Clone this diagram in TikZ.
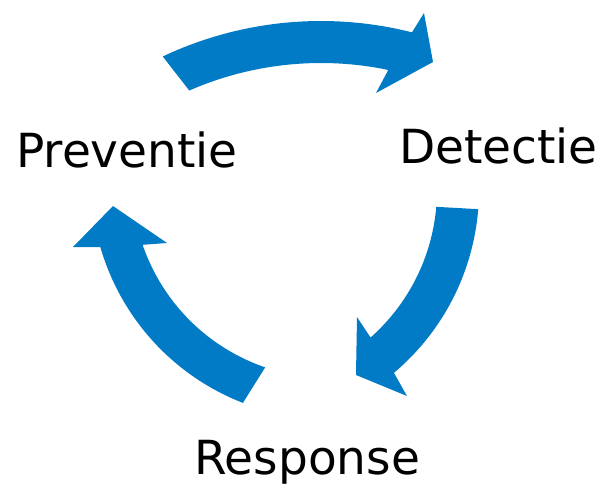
\documentclass[tikz,border=0pt]{standalone}
\usepackage{fontspec}
\setmainfont{DejaVu Sans}
\definecolor{cycleblue}{RGB}{2,123,198}
\begin{document}
\begin{tikzpicture}[x=1pt,y=-1pt,
  cyclearrow/.style={fill=cycleblue, draw=none},
  stage/.style={inner sep=0pt, anchor=base west, font=\fontsize{47}{56}\selectfont}]
\useasboundingbox (0,0) rectangle (603,485);

% Preventie -> Detectie (top arc)
\fill[cyclearrow]
  plot[domain=-115.25:-75.8, samples=50] ({321+371*cos(\x)},{392+371*sin(\x)})
  -- (424,13) -- (433,62) -- (376,93)
  -- plot[domain=-78.2:-113.6, samples=50] ({321+329*cos(\x)},{392+329*sin(\x)})
  -- cycle;

% Detectie -> Response (right arc)
\fill[cyclearrow]
  plot[domain=4.6:49.9, samples=50] ({240+239*cos(\x)},{190+239*sin(\x)})
  -- (407,396) -- (356,375) -- (357,317)
  -- plot[domain=48.5:4.9, samples=50] ({240+197*cos(\x)},{190+197*sin(\x)})
  -- cycle;

% Response -> Preventie (left arc)
\fill[cyclearrow]
  plot[domain=111.2:163.9, samples=50] ({329+238*cos(\x)},{181+238*sin(\x)})
  -- (73,247) -- (113,206) -- (167,243)
  -- plot[domain=161.1:108.9, samples=50] ({329+197*cos(\x)},{181+197*sin(\x)})
  -- cycle;

% stage labels
\node[stage] (preventie) at (16,167) {Preventie};
\node[stage] (detectie) at (399,163) {Detectie};
\node[stage] (response) at (194,474) {Response};
\end{tikzpicture}
\end{document}
